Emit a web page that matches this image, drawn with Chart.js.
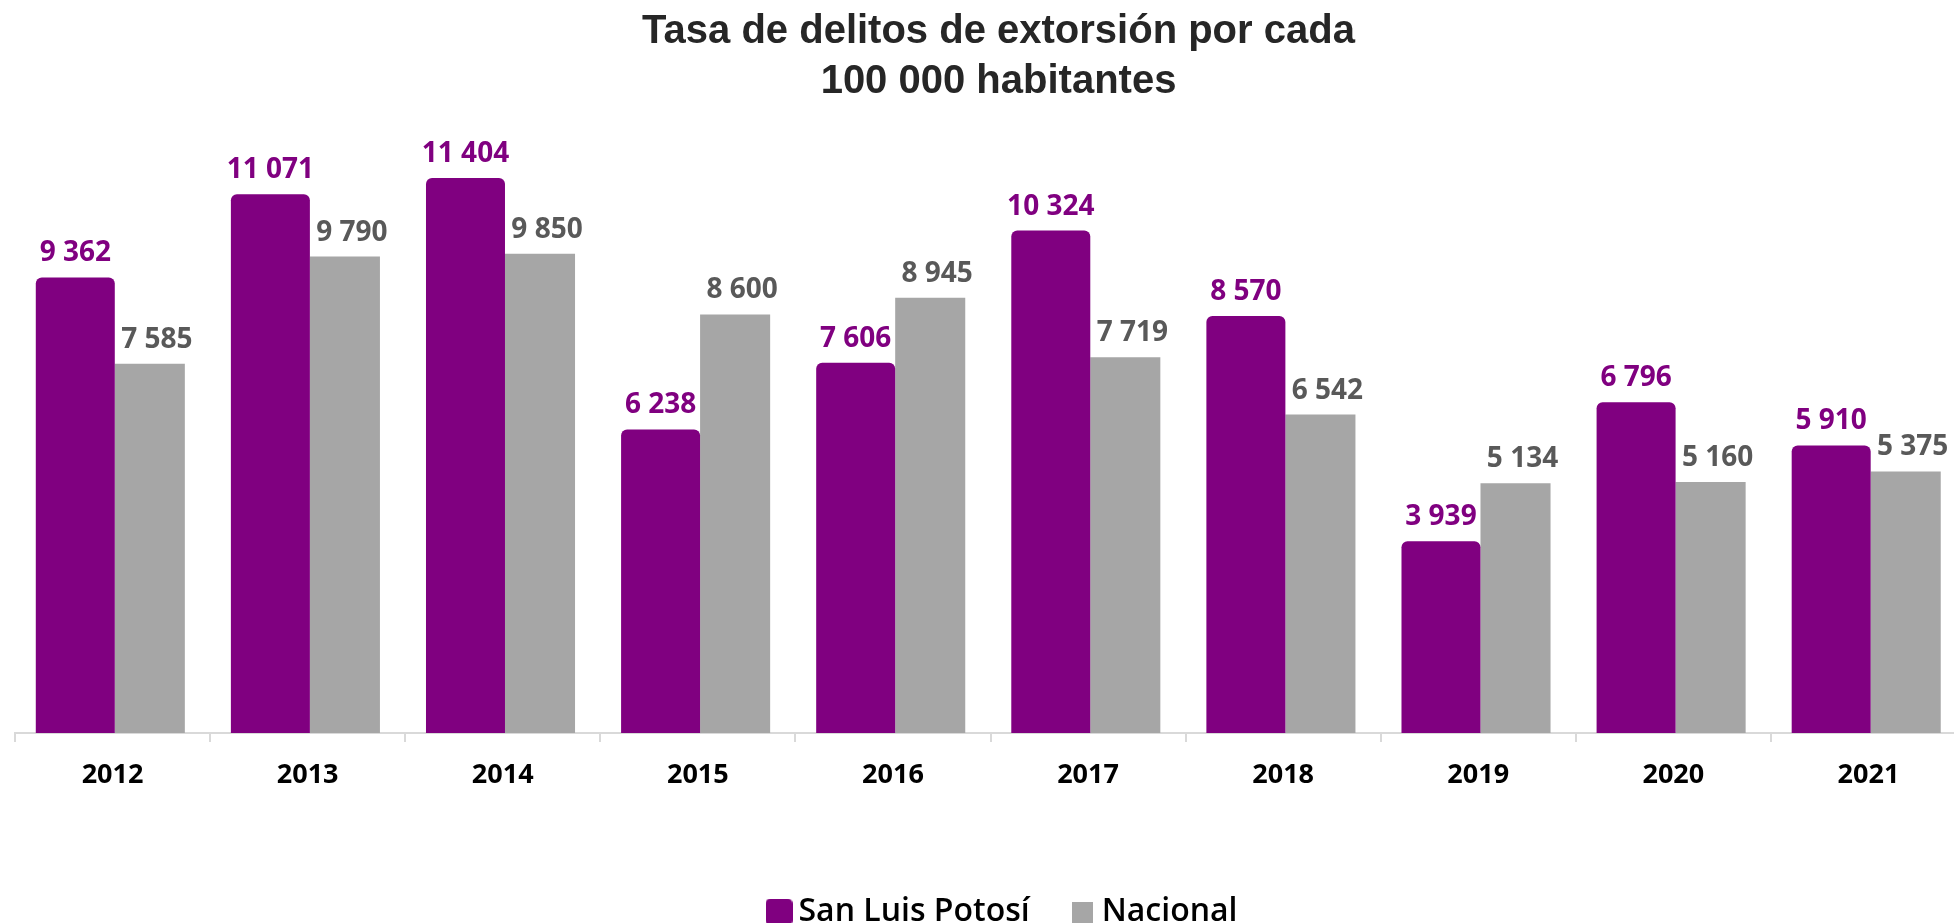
<!DOCTYPE html>
<html>
<head>
<meta charset="utf-8">
<script src="https://cdn.jsdelivr.net/npm/chart.js@4.4.1/dist/chart.umd.min.js"></script>
<style>
  html, body { margin: 0; padding: 0; background: #fff; overflow: hidden; }
  #wrap { width: 1954px; height: 923px; overflow: hidden; }
  #box { width: 1994px; height: 923px; }
</style>
</head>
<body>
<div id="wrap"><div id="box"><canvas id="chart"></canvas></div></div>
<script>
// chart data
const years = ['2012', '2013', '2014', '2015', '2016', '2017', '2018', '2019', '2020', '2021'];
const sanLuis = [9362, 11071, 11404, 6238, 7606, 10324, 8570, 3939, 6796, 5910];
const nacional = [7585, 9790, 9850, 8600, 8945, 7719, 6542, 5134, 5160, 5375];
const seriesNames = ['San Luis Potosí', 'Nacional'];

const PURPLE = '#800080';
const GRAY = '#a6a6a6';

// 9362 -> "9 362"
const fmt = v => String(v).replace(/\B(?=(\d{3})+(?!\d))/g, ' ');

// little canvases used as legend markers
function marker(size, color, radius) {
    const c = document.createElement('canvas');
    c.width = size; c.height = size;
    const g = c.getContext('2d');
    g.fillStyle = color;
    g.beginPath();
    g.roundRect(0, 0, size, size, radius);
    g.fill();
    return c;
}
const markers = [marker(27, PURPLE, 5), marker(21, GRAY, 0)];

// value labels above bars
const barLabels = {
    id: 'barLabels',
    afterDatasetsDraw(chart) {
        const ctx = chart.ctx;
        ctx.save();
        ctx.font = 'bold 28px "Open Sans"';
        ctx.textAlign = 'center';
        ctx.textBaseline = 'bottom';
        chart.data.datasets.forEach((ds, i) => {
            const meta = chart.getDatasetMeta(i);
            ctx.fillStyle = i === 0 ? PURPLE : '#595959';
            const dx = i === 0 ? 0 : 7;
            meta.data.forEach((bar, j) => {
                ctx.fillText(fmt(ds.data[j]), bar.x + dx, bar.y - 10);
            });
        });
        ctx.restore();
    }
};

// nudge title and legend a bit to the right, like the original
const nudge = {
    id: 'nudge',
    afterLayout(chart) {
        if (chart.titleBlock) { chart.titleBlock.left += 8; chart.titleBlock.right += 8; }
        if (chart.legend) { chart.legend.left += 16; chart.legend.right += 16; }
    }
};

const chart = new Chart(document.getElementById('chart'), {
    type: 'bar',
    data: {
        labels: years,
        datasets: [{
            label: seriesNames[0],
            data: sanLuis,
            backgroundColor: PURPLE,
            borderRadius: { topLeft: 6, topRight: 6, bottomLeft: 0, bottomRight: 0 },
            borderSkipped: 'start',
            barPercentage: 1.06,
            categoryPercentage: 0.764
        }, {
            label: seriesNames[1],
            data: nacional,
            backgroundColor: GRAY,
            barPercentage: 0.94,
            categoryPercentage: 0.764
        }]
    },
    options: {
        responsive: true,
        maintainAspectRatio: false,
        animation: false,
        layout: { padding: { left: 15, right: 28, top: 0, bottom: -15 } },
        plugins: {
            title: {
                display: true,
                text: ['Tasa de delitos de extorsión por cada', '100 000 habitantes'],
                color: '#262626',
                font: { family: '"Liberation Sans", Arial, sans-serif', size: 40, weight: 'bold', lineHeight: '50px' },
                padding: { top: 7, bottom: 42 }
            },
            legend: {
                position: 'bottom',
                labels: {
                    usePointStyle: true,
                    boxWidth: 7,
                    boxHeight: 27,
                    padding: 49,
                    color: '#000',
                    font: { family: '"Open Sans"', size: 32, weight: '600' },
                    generateLabels: ch => ch.data.datasets.map((ds, i) => ({
                        text: ds.label,
                        pointStyle: markers[i],
                        fillStyle: ds.backgroundColor,
                        strokeStyle: ds.backgroundColor,
                        lineWidth: 0,
                        datasetIndex: i,
                        hidden: false
                    }))
                }
            },
            tooltip: { enabled: false }
        },
        scales: {
            x: {
                grid: {
                    display: true,
                    offset: true,
                    drawOnChartArea: false,
                    drawTicks: true,
                    tickLength: 9,
                    color: '#d9d9d9',
                    lineWidth: 2
                },
                border: { display: true, color: '#d9d9d9', width: 2 },
                ticks: {
                    color: '#000',
                    padding: 17,
                    font: { family: '"Open Sans"', size: 27, weight: 'bold' }
                },
                afterFit: scale => { scale.height = 114; }
            },
            y: {
                display: false,
                min: 0,
                max: 12000
            }
        }
    },
    plugins: [barLabels, nudge]
});
</script>
</body>
</html>
